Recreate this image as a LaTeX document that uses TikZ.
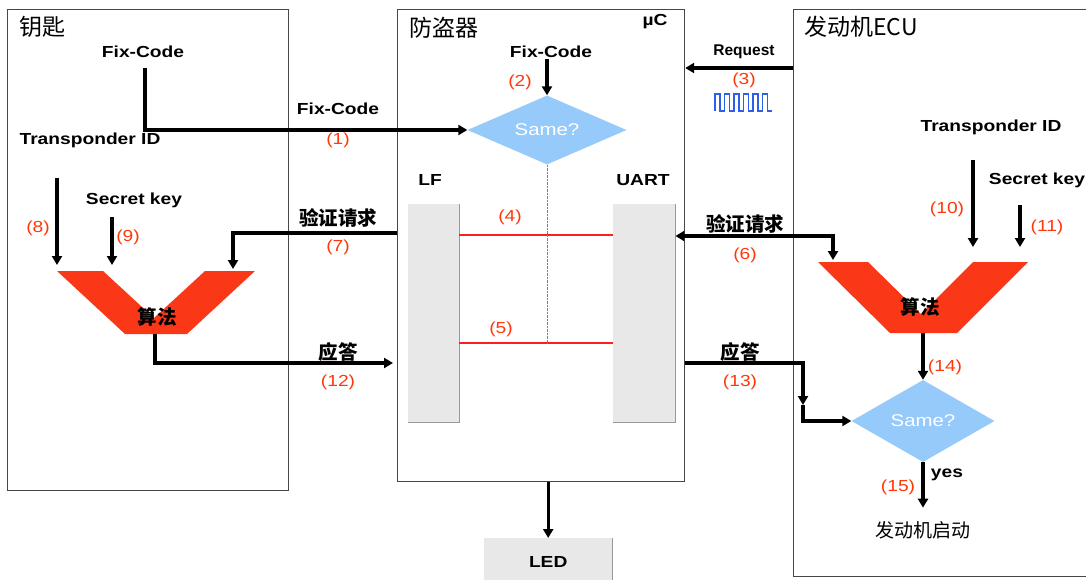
\documentclass[tikz,border=0pt]{standalone}
\usepackage{fontspec}
\setmainfont{Liberation Sans}[FakeStretch=1.2]
\newfontfamily\narrowfont{Liberation Sans}
\newfontfamily\cjk{Noto Sans CJK SC}
\usetikzlibrary{shapes.geometric,arrows.meta,positioning,calc}

\definecolor{algred}{RGB}{250,56,24}
\definecolor{numred}{RGB}{255,56,10}
\definecolor{sameblue}{RGB}{150,202,250}
\definecolor{bargray}{RGB}{232,232,232}
\definecolor{panelgray}{RGB}{70,70,70}
\definecolor{waveblue}{RGB}{45,95,235}
\definecolor{linkred}{RGB}{255,30,30}

\tikzset{
  headtip/.tip={Triangle[length=9pt,width=10pt]},
  panel/.style={draw=panelgray,line width=1.2pt,rectangle,inner sep=0pt,anchor=north west},
  bar/.style={fill=bargray,rectangle,inner sep=0pt,anchor=north west},
  lbl/.style={font=\fontsize{16}{18}\selectfont\bfseries,inner sep=1pt},
  num/.style={font=\fontsize{16}{18}\selectfont,text=numred,inner sep=1pt},
  cjklbl/.style={font=\fontsize{19.5}{21}\selectfont\cjk\bfseries,inner sep=1pt},
  headtxt/.style={font=\fontsize{23}{25}\selectfont\cjk,anchor=west,inner sep=0pt},
  samebox/.style={diamond,aspect=2,fill=sameblue,inner sep=0pt,text=white,font=\fontsize{17}{19}\selectfont},
  flow/.style={-headtip,line width=3.2pt},
  link/.style={draw=linkred,line width=1.1pt},
  shade/.style={draw=black!40,line width=1.4pt},
}

\begin{document}
\begin{tikzpicture}[x=1pt,y=-1pt]
  \path[use as bounding box,fill=white] (0,0) rectangle (1086,579);
  \node (keybox) [panel,minimum width=281pt,minimum height=481pt] at (7,9) {};
  \node (midbox) [panel,minimum width=287pt,minimum height=472pt] at (397,9) {};
  \node (ecubox) [panel,minimum width=310pt,minimum height=567pt] at (793,9) {};
  \node (keyhead) [headtxt] at (19,27) {钥匙};
  \node (midhead) [headtxt] at (409,28) {防盗器};
  \node (ecuhead) [headtxt] at (804,27) {发动机ECU};
  \node (uc) [lbl] at (655,22) {µC};

  \node (fixkey) [lbl] at (143,52) {Fix-Code};
  \node (fixmid) [lbl] at (551,52) {Fix-Code};
  \node (fixsend) [lbl] at (338,109) {Fix-Code};
  \node (req) [lbl,font=\fontsize{15.5}{17}\selectfont\narrowfont\bfseries] at (744,52) {Request};
  \node (idkey) [lbl] at (90,140) {Transponder ID};
  \node (skkey) [lbl] at (134,200) {Secret key};
  \node (idecu) [lbl] at (991,127) {Transponder ID};
  \node (skecu) [lbl] at (1037,180) {Secret key};
  \node (lf) [lbl] at (430,180) {LF};
  \node (uart) [lbl] at (643,180) {UART};

  \node (lfbar) [bar,minimum width=51pt,minimum height=218pt] at (408,204) {};
  \node (uartbar) [bar,minimum width=62pt,minimum height=218pt] at (613,204) {};
  \draw[shade] (lfbar.south west) -- (lfbar.south east) -- (lfbar.north east);
  \draw[shade] (uartbar.south west) -- (uartbar.south east) -- (uartbar.north east);
  \node (led) [bar,lbl,minimum width=128pt,minimum height=48pt] at (484,538) {LED};
  \draw[shade] (led.north east) -- (led.south east);

  \node (same1) [samebox,minimum width=159pt,minimum height=69pt] at (547,130) {Same?};
  \node (same2) [samebox,minimum width=143pt,minimum height=82pt] at (923,421) {Same?};

  \fill[algred] (57,271) -- (103,271) -- (154,318) -- (205,271) -- (255,271) -- (187,334) -- (125,334) -- cycle;
  \fill[algred] (818,262) -- (868,262) -- (921,314) -- (973,262) -- (1028,262) -- (957,333) -- (890,333) -- cycle;
  \node (algkey) [cjklbl] at (157,317) {算法};
  \node (algecu) [cjklbl] at (920,307) {算法};

  \node (reqkey) [cjklbl] at (338,218) {验证请求};
  \node (reqecu) [cjklbl] at (745,224) {验证请求};
  \node (anskey) [cjklbl] at (338,352) {应答};
  \node (ansecu) [cjklbl] at (740,352) {应答};
  \node (yes) [lbl] at (947,475) {yes};
  \node (start) [font=\fontsize{19}{21}\selectfont\cjk] at (923,530) {发动机启动};

  \node (n1) [num] at (338,140) {(1)};
  \node (n2) [num] at (520,82) {(2)};
  \node (n3) [num] at (744,80) {(3)};
  \node (n4) [num] at (510,217) {(4)};
  \node (n5) [num] at (501,329) {(5)};
  \node (n6) [num] at (745,255) {(6)};
  \node (n7) [num] at (338,247) {(7)};
  \node (n8) [num] at (38,228) {(8)};
  \node (n9) [num] at (128,237) {(9)};
  \node (n10) [num] at (947,209) {(10)};
  \node (n11) [num] at (1047,227) {(11)};
  \node (n12) [num] at (338,382) {(12)};
  \node (n13) [num] at (740,382) {(13)};
  \node (n14) [num] at (945,367) {(14)};
  \node (n15) [num] at (898,487) {(15)};

  \coordinate (fk) at (145,68);
  \coordinate (rq) at (793,68);
  \coordinate (c6) at (833,236);
  \coordinate (e6) at (833,260);
  \coordinate (c7) at (233,233);
  \coordinate (e7) at (233,269);
  \coordinate (a8) at (57,178);
  \coordinate (b8) at (57,265);
  \coordinate (a9) at (112,217);
  \coordinate (b9) at (112,265);
  \coordinate (a10) at (973,160);
  \coordinate (b10) at (973,247);
  \coordinate (a11) at (1020,205);
  \coordinate (b11) at (1020,247);
  \coordinate (vkb) at (155,334);
  \coordinate (c12) at (155,363);
  \coordinate (c13) at (803,363);
  \coordinate (m13) at (803,405);
  \coordinate (veb) at (923,333);
  \coordinate (l4) at (459,235);
  \coordinate (l5) at (459,343);

  \draw[flow] (fk) -- (fk |- same1.west) -- (same1.west);
  \draw[flow] (same1.north |- fixmid.south) -- (same1.north);
  \draw[flow] (rq) -- (rq -| midbox.east);
  \draw[waveblue,line width=1.2pt] (715,111) \foreach \k in {1,...,6} { -- ++(0,-17) -- ++(5,0) -- ++(0,17) -- ++(4.5,0) };
  \draw[link] (l4 -| lfbar.east) -- (l4 -| uartbar.west);
  \draw[link] (l5 -| lfbar.east) -- (l5 -| uartbar.west);
  \draw[gray,densely dotted] (same1.south) -- (same1.south |- l5);
  \draw[flow,headtip-headtip] (c6 -| uartbar.east) -- (c6) -- (e6);
  \draw[flow] (c7 -| midbox.west) -- (c7) -- (e7);
  \draw[flow] (a8) -- (b8);
  \draw[flow] (a9) -- (b9);
  \draw[flow] (a10) -- (b10);
  \draw[flow] (a11) -- (b11);
  \draw[flow,shorten >=4pt] (vkb) -- (c12) -- (c12 -| midbox.west);
  \draw[flow] (c13 -| midbox.east) -- (c13) -- (m13);
  \draw[flow] (m13) -- (m13 |- same2.west) -- (same2.west);
  \draw[flow] (veb) -- (same2.north);
  \draw[flow,shorten >=10pt] (same2.south) -- (start.north);
  \draw[flow] (led.north |- midbox.south) -- (led.north);
\end{tikzpicture}
\end{document}
